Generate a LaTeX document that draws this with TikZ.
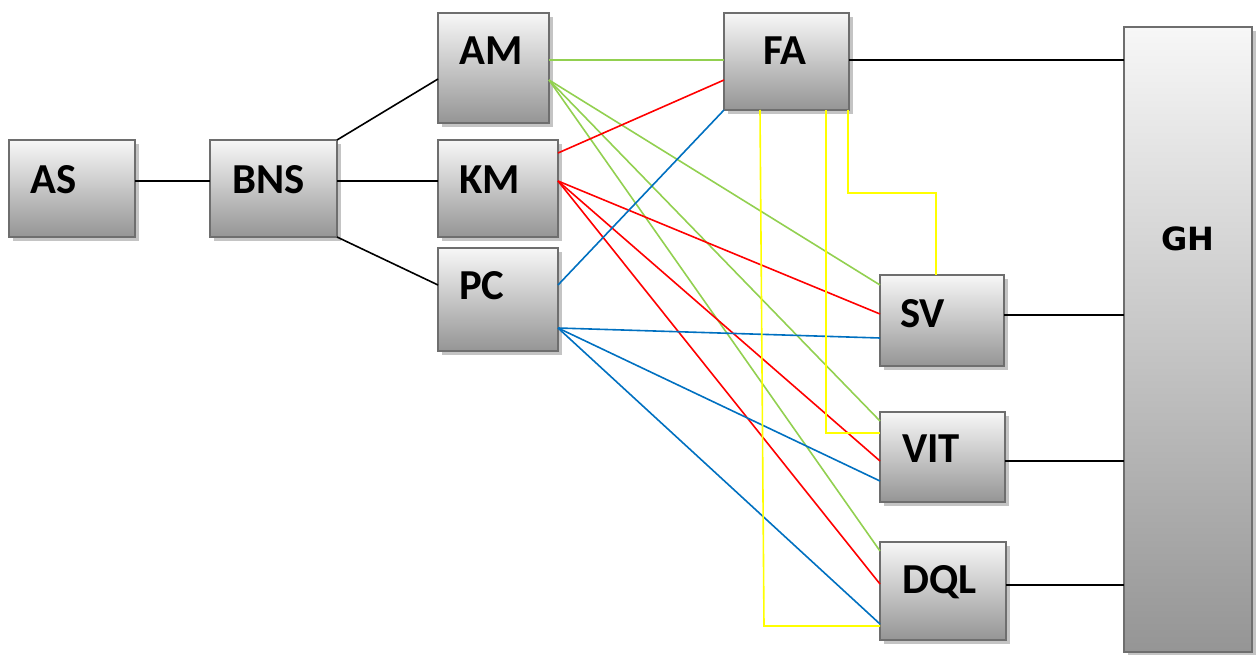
\documentclass[tikz,border=0pt]{standalone}
\usepackage{fontspec}
\setmainfont{Carlito}
\newfontfamily\ghfont{DejaVu Sans}
\usetikzlibrary{shadows}

\definecolor{boxedge}{HTML}{6E6E6E}
\definecolor{boxtop}{HTML}{F7F7F7}
\definecolor{boxbot}{HTML}{959595}
\definecolor{shadowgray}{HTML}{C4C4C4}
\definecolor{lgreen}{HTML}{92D050}
\definecolor{lred}{HTML}{FF0000}
\definecolor{lblue}{HTML}{0070C0}
\definecolor{lyellow}{HTML}{FFFF00}

\tikzset{
  blk/.style={draw=boxedge, line width=2pt, top color=boxtop, bottom color=boxbot,
    inner sep=0pt, outer sep=0pt,
    drop shadow={shadow xshift=4pt, shadow yshift=-4pt, fill=shadowgray, opacity=1}},
  lbl/.style={anchor=base west, inner sep=0pt, font=\fontsize{42.7}{48}\selectfont\bfseries},
  ghlbl/.style={anchor=base west, inner sep=0pt, font=\ghfont\fontsize{32}{36}\selectfont\bfseries},
  wire/.style={line width=1.6pt},
  blackln/.style={wire, black},
  grn/.style={wire, lgreen},
  rd/.style={wire, lred},
  bl/.style={wire, lblue},
  yl/.style={wire, lyellow},
}

\begin{document}
\begin{tikzpicture}[x=1pt, y=-1pt]
\useasboundingbox (0,0) rectangle (1256,655);

% boxes
\node[blk, minimum width=126pt, minimum height=97pt]  (as)  at (72,188.5)   {};
\node[blk, minimum width=127pt, minimum height=97pt]  (bns) at (273.5,188.5) {};
\node[blk, minimum width=111pt, minimum height=110pt] (am)  at (493.5,68)   {};
\node[blk, minimum width=120pt, minimum height=97pt]  (km)  at (498,188.5)  {};
\node[blk, minimum width=120pt, minimum height=103pt] (pc)  at (498,299.5)  {};
\node[blk, minimum width=125pt, minimum height=97pt]  (fa)  at (786.5,61.5) {};
\node[blk, minimum width=124pt, minimum height=91pt]  (sv)  at (942,320.5)  {};
\node[blk, minimum width=125pt, minimum height=90pt]  (vit) at (942.5,457)  {};
\node[blk, minimum width=126pt, minimum height=98pt]  (dql) at (943,591)    {};
\node[blk, minimum width=128pt, minimum height=625pt] (gh)  at (1188,339.5) {};

% labels
\node[lbl] (as-t)  at (30,194)  {AS};
\node[lbl] (bns-t) at (232,194) {BNS};
\node[lbl] (am-t)  at (459,65)  {AM};
\node[lbl] (km-t)  at (459,194) {KM};
\node[lbl] (pc-t)  at (459,299) {PC};
\node[lbl] (fa-t)  at (763,65)  {FA};
\node[lbl] (sv-t)  at (900,327) {SV};
\node[lbl] (vit-t) at (902,462) {VIT};
\node[lbl] (dql-t) at (902,593) {DQL};
\node[ghlbl] (gh-t) at (1161,251) {GH};

% black links on the left
\draw[blackln] ([yshift=-41pt]as.north east) -- ([yshift=-41pt]bns.north west);
\draw[blackln] (bns.north east) -- ([yshift=-66pt]am.north west);
\draw[blackln] ([yshift=-41pt]bns.north east) -- ([yshift=-41pt]km.north west);
\draw[blackln] (bns.south east) -- ([yshift=-37pt]pc.north west);

% green links from AM
\draw[grn] ([yshift=-47pt]am.north east) -- ([yshift=-47pt]fa.north west);
\draw[grn] ([yshift=-67pt]am.north east) -- ([yshift=-10pt]sv.north west);
\draw[grn] ([yshift=-67pt]am.north east) -- ([yshift=-9pt]vit.north west);
\draw[grn] ([yshift=-67pt]am.north east) -- ([yshift=-9pt]dql.north west);

% red links from KM
\draw[rd] ([yshift=-13pt]km.north east) -- ([yshift=-67pt]fa.north west);
\draw[rd] ([yshift=-41pt]km.north east) -- ([yshift=-39pt]sv.north west);
\draw[rd] ([yshift=-41pt]km.north east) -- ([yshift=-49pt]vit.north west);
\draw[rd] ([yshift=-41pt]km.north east) -- ([yshift=-42pt]dql.north west);

% blue links from PC
\draw[bl] ([yshift=-37pt]pc.north east) -- (fa.south west);
\draw[bl] ([yshift=-80pt]pc.north east) -- ([yshift=-63pt]sv.north west);
\draw[bl] ([yshift=-80pt]pc.north east) -- ([yshift=-69pt]vit.north west);
\draw[bl] ([yshift=-80pt]pc.north east) -- ([yshift=-82pt]dql.north west);

% yellow links from FA
\draw[yl] ([xshift=36pt]fa.south west) -- ++(4,516) -- ([yshift=-84pt]dql.north west);
\draw[yl] ([xshift=102pt]fa.south west) |- ([yshift=-21pt]vit.north west);
\draw[yl] ([xshift=-1pt]fa.south east) -- ++(0,83) -| ([xshift=56pt]sv.north west);

% black links into GH
\draw[blackln] ([yshift=-47pt]fa.north east) -- ([yshift=-33pt]gh.north west);
\draw[blackln] ([yshift=-40pt]sv.north east) -- ([yshift=-288pt]gh.north west);
\draw[blackln] ([yshift=-49pt]vit.north east) -- ([yshift=-434pt]gh.north west);
\draw[blackln] ([yshift=-43pt]dql.north east) -- ([yshift=-558pt]gh.north west);
\end{tikzpicture}
\end{document}
